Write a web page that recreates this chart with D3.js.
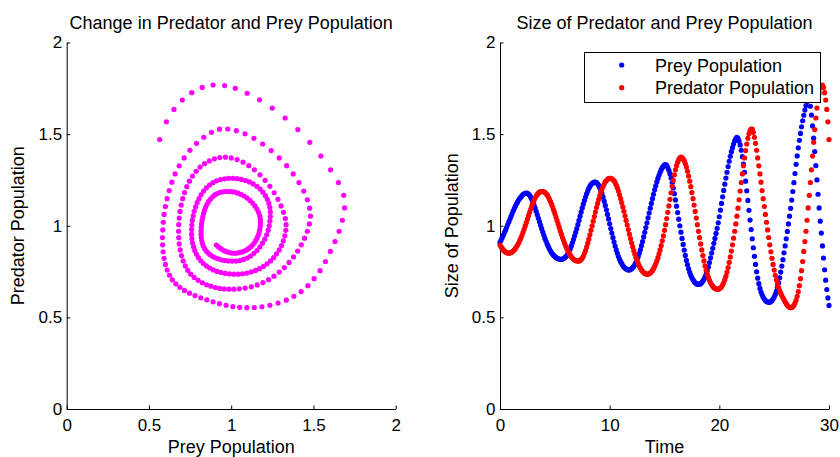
<!DOCTYPE html>
<html>
<head>
<meta charset="utf-8">
<script src="https://cdn.jsdelivr.net/npm/d3@7"></script>
<style>
  body { margin: 0; background: #fff; }
  text { font-family: "Liberation Sans", Arial, Helvetica, sans-serif; fill: #000; }
</style>
</head>
<body>
<div id="chart"></div>
<script>
// time samples and the two populations
var time = [
  0,0.1,0.2,0.3,0.4,0.5,0.6,0.7,0.8,0.9,
  1,1.1,1.2,1.3,1.4,1.5,1.6,1.7,1.8,1.9,
  2,2.1,2.2,2.3,2.4,2.5,2.6,2.7,2.8,2.9,
  3,3.1,3.2,3.3,3.4,3.5,3.6,3.7,3.8,3.9,
  4,4.1,4.2,4.3,4.4,4.5,4.6,4.7,4.8,4.9,
  5,5.1,5.2,5.3,5.4,5.5,5.6,5.7,5.8,5.9,
  6,6.1,6.2,6.3,6.4,6.5,6.6,6.7,6.8,6.9,
  7,7.1,7.2,7.3,7.4,7.5,7.6,7.7,7.8,7.9,
  8,8.1,8.2,8.3,8.4,8.5,8.6,8.7,8.8,8.9,
  9,9.1,9.2,9.3,9.4,9.5,9.6,9.7,9.8,9.9,
  10,10.1,10.2,10.3,10.4,10.5,10.6,10.7,10.8,10.9,
  11,11.1,11.2,11.3,11.4,11.5,11.6,11.7,11.8,11.9,
  12,12.1,12.2,12.3,12.4,12.5,12.6,12.7,12.8,12.9,
  13,13.1,13.2,13.3,13.4,13.5,13.6,13.7,13.8,13.9,
  14,14.1,14.2,14.3,14.4,14.5,14.6,14.7,14.8,14.9,
  15,15.1,15.2,15.3,15.4,15.5,15.6,15.7,15.8,15.9,
  16,16.1,16.2,16.3,16.4,16.5,16.6,16.7,16.8,16.9,
  17,17.1,17.2,17.3,17.4,17.5,17.6,17.7,17.8,17.9,
  18,18.1,18.2,18.3,18.4,18.5,18.6,18.7,18.8,18.9,
  19,19.1,19.2,19.3,19.4,19.5,19.6,19.7,19.8,19.9,
  20,20.1,20.2,20.3,20.4,20.5,20.6,20.7,20.8,20.9,
  21,21.1,21.2,21.3,21.4,21.5,21.6,21.7,21.8,21.9,
  22,22.1,22.2,22.3,22.4,22.5,22.6,22.7,22.8,22.9,
  23,23.1,23.2,23.3,23.4,23.5,23.6,23.7,23.8,23.9,
  24,24.1,24.2,24.3,24.4,24.5,24.6,24.7,24.8,24.9,
  25,25.1,25.2,25.3,25.4,25.5,25.6,25.7,25.8,25.9,
  26,26.1,26.2,26.3,26.4,26.5,26.6,26.7,26.8,26.9,
  27,27.1,27.2,27.3,27.4,27.5,27.6,27.7,27.8,27.9,
  28,28.1,28.2,28.3,28.4,28.5,28.6,28.7,28.8,28.9,
  29,29.1,29.2,29.3,29.4,29.5,29.6,29.7,29.8,29.9,
  30
];

var prey = [
  0.910,0.922,0.935,0.948,0.962,0.976,0.990,1.005,1.020,1.035,
  1.050,1.065,1.080,1.094,1.107,1.119,1.130,1.140,1.149,1.157,
  1.164,1.170,1.174,1.177,1.178,1.177,1.173,1.166,1.156,1.144,
  1.130,1.114,1.097,1.079,1.060,1.041,1.022,1.003,0.984,0.966,
  0.948,0.931,0.915,0.900,0.887,0.874,0.863,0.853,0.845,0.838,
  0.832,0.827,0.823,0.820,0.818,0.817,0.817,0.818,0.821,0.825,
  0.831,0.839,0.849,0.861,0.875,0.890,0.907,0.925,0.944,0.964,
  0.984,1.006,1.029,1.052,1.075,1.097,1.118,1.138,1.157,1.174,
  1.190,1.204,1.216,1.225,1.231,1.235,1.238,1.238,1.235,1.229,
  1.220,1.208,1.193,1.176,1.156,1.134,1.111,1.087,1.062,1.037,
  1.011,0.985,0.960,0.935,0.911,0.889,0.868,0.849,0.832,0.817,
  0.804,0.793,0.783,0.775,0.769,0.764,0.761,0.759,0.759,0.761,
  0.765,0.771,0.779,0.789,0.801,0.815,0.831,0.849,0.869,0.891,
  0.914,0.939,0.964,0.990,1.016,1.043,1.069,1.096,1.122,1.148,
  1.172,1.196,1.218,1.239,1.258,1.275,1.292,1.306,1.317,1.326,
  1.332,1.334,1.329,1.318,1.303,1.284,1.261,1.235,1.206,1.175,
  1.141,1.107,1.072,1.036,1.000,0.965,0.931,0.898,0.867,0.838,
  0.811,0.787,0.765,0.746,0.730,0.716,0.705,0.696,0.689,0.684,
  0.681,0.680,0.681,0.684,0.690,0.698,0.708,0.721,0.736,0.754,
  0.775,0.799,0.825,0.851,0.877,0.904,0.931,0.958,0.986,1.016,
  1.049,1.085,1.122,1.158,1.193,1.227,1.260,1.292,1.323,1.352,
  1.379,1.404,1.426,1.446,1.463,1.475,1.482,1.477,1.463,1.441,
  1.412,1.377,1.337,1.292,1.243,1.191,1.138,1.084,1.031,0.979,
  0.929,0.880,0.833,0.789,0.749,0.714,0.684,0.659,0.639,0.623,
  0.610,0.600,0.592,0.587,0.584,0.582,0.583,0.586,0.592,0.600,
  0.611,0.625,0.642,0.663,0.688,0.716,0.747,0.780,0.815,0.852,
  0.890,0.929,0.969,1.010,1.052,1.095,1.140,1.187,1.235,1.285,
  1.335,1.381,1.425,1.466,1.504,1.540,1.573,1.603,1.631,1.656,
  1.676,1.689,1.684,1.652,1.604,1.545,1.478,1.405,1.328,1.250,
  1.172,1.097,1.025,0.960,0.890,0.824,0.760,0.703,0.652,0.606,
  0.565
];

var predator = [
  0.895,0.885,0.876,0.868,0.862,0.857,0.853,0.851,0.850,0.851,
  0.853,0.857,0.862,0.868,0.876,0.885,0.895,0.906,0.919,0.933,
  0.948,0.964,0.981,0.999,1.017,1.036,1.055,1.073,1.091,1.108,
  1.124,1.138,1.151,1.162,1.171,1.178,1.183,1.186,1.187,1.187,
  1.185,1.182,1.176,1.168,1.158,1.146,1.133,1.118,1.102,1.085,
  1.067,1.048,1.029,1.010,0.991,0.972,0.954,0.936,0.919,0.903,
  0.888,0.874,0.861,0.850,0.840,0.831,0.824,0.818,0.813,0.810,
  0.808,0.807,0.807,0.810,0.816,0.824,0.835,0.849,0.865,0.884,
  0.905,0.927,0.951,0.975,1.000,1.025,1.050,1.075,1.099,1.122,
  1.144,1.164,1.183,1.200,1.215,1.228,1.239,1.247,1.253,1.257,
  1.259,1.259,1.256,1.252,1.245,1.235,1.222,1.207,1.189,1.169,
  1.148,1.126,1.103,1.079,1.054,1.029,1.004,0.979,0.954,0.930,
  0.907,0.885,0.864,0.844,0.826,0.809,0.794,0.781,0.769,0.759,
  0.751,0.745,0.740,0.737,0.736,0.736,0.738,0.742,0.748,0.756,
  0.766,0.778,0.792,0.808,0.826,0.846,0.868,0.892,0.918,0.945,
  0.975,1.006,1.039,1.073,1.108,1.144,1.180,1.215,1.248,1.278,
  1.305,1.328,1.347,1.361,1.370,1.374,1.372,1.365,1.354,1.339,
  1.320,1.297,1.271,1.243,1.213,1.181,1.148,1.113,1.078,1.042,
  1.006,0.970,0.935,0.901,0.868,0.837,0.808,0.781,0.757,0.736,
  0.718,0.702,0.689,0.678,0.670,0.663,0.658,0.655,0.654,0.654,
  0.656,0.660,0.667,0.677,0.690,0.706,0.725,0.747,0.772,0.800,
  0.830,0.862,0.896,0.932,0.970,1.010,1.052,1.096,1.142,1.189,
  1.236,1.283,1.328,1.370,1.410,1.446,1.477,1.502,1.519,1.528,
  1.527,1.510,1.483,1.450,1.412,1.370,1.327,1.283,1.238,1.192,
  1.148,1.105,1.062,1.019,0.977,0.936,0.896,0.858,0.822,0.789,
  0.758,0.730,0.705,0.683,0.664,0.647,0.632,0.619,0.607,0.596,
  0.585,0.575,0.566,0.559,0.555,0.553,0.554,0.558,0.566,0.578,
  0.594,0.615,0.641,0.673,0.711,0.755,0.805,0.860,0.914,0.970,
  1.030,1.097,1.166,1.236,1.305,1.380,1.455,1.525,1.588,1.642,
  1.687,1.723,1.750,1.765,1.768,1.755,1.726,1.686,1.635,1.567,
  1.470
];

var popTicks = [0, 0.5, 1, 1.5, 2];
var timeTicks = [0, 10, 20, 30];
var legendNames = ["Prey Population", "Predator Population"];
var legendColors = ["#0000ff", "#ff0000"];

var width = 840, height = 457;
var plotTop = 42.5, plotBottom = 409;
var dotR = 2.6;

var svg = d3.select("#chart").append("svg")
    .attr("width", width)
    .attr("height", height);

// one MATLAB-like panel: left + bottom axis, inward ticks
function makePanel(x0, x1, xDomain, xTicks, title, xLabel, yLabel)
{
  var p = {};
  p.x = d3.scaleLinear().domain(xDomain).range([x0, x1]);
  p.y = d3.scaleLinear().domain([0, 2]).range([plotBottom, plotTop]);
  p.g = svg.append("g");

  var xAxis = p.g.append("g")
      .attr("transform", "translate(0," + plotBottom + ")")
      .call(d3.axisBottom(p.x).tickValues(xTicks).tickFormat(d3.format("")).tickSizeInner(-3.5).tickSizeOuter(0).tickPadding(10));
  var yAxis = p.g.append("g")
      .attr("transform", "translate(" + x0 + ",0)")
      .call(d3.axisLeft(p.y).tickValues(popTicks).tickFormat(d3.format("")).tickSizeInner(-3.5).tickSizeOuter(0).tickPadding(4.5));

  [xAxis, yAxis].forEach(function(a) {
    a.attr("font-size", 17).attr("font-family", null);
    a.selectAll("path, line").attr("stroke", "#000");
    a.selectAll("text").attr("fill", "#000");
  });

  var cx = (x0 + x1) / 2;
  p.g.append("text").attr("x", cx).attr("y", 29)
      .attr("text-anchor", "middle").attr("font-size", 18).text(title);
  p.g.append("text").attr("x", cx).attr("y", 453)
      .attr("text-anchor", "middle").attr("font-size", 18).text(xLabel);
  p.g.append("text")
      .attr("transform", "translate(" + (x0 - 42.4) + "," + ((plotTop + plotBottom) / 2) + ") rotate(-90)")
      .attr("text-anchor", "middle").attr("font-size", 18).text(yLabel);
  return p;
}

var idx = d3.range(time.length);

// left: phase plane
var phase = makePanel(66.7, 395.7, [0, 2], popTicks,
    "Change in Predator and Prey Population", "Prey Population", "Predator Population");
phase.g.append("g").selectAll("circle")
    .data(idx).enter().append("circle")
    .attr("cx", function(i) { return phase.x(prey[i]); })
    .attr("cy", function(i) { return phase.y(predator[i]); })
    .attr("r", dotR)
    .attr("fill", "#ff00ff");

// right: populations over time
var ts = makePanel(500, 829, [0, 30], timeTicks,
    "Size of Predator and Prey Population", "Time", "Size of Population");
[prey, predator].forEach(function(series, k) {
  ts.g.append("g").selectAll("circle")
      .data(idx).enter().append("circle")
      .attr("cx", function(i) { return ts.x(time[i]); })
      .attr("cy", function(i) { return ts.y(series[i]); })
      .attr("r", dotR)
      .attr("fill", legendColors[k]);
});

// legend
var legend = svg.append("g").attr("transform", "translate(584,52)");
legend.append("rect").attr("x", 0.5).attr("y", 0.5)
    .attr("width", 236).attr("height", 50)
    .attr("fill", "#fff").attr("stroke", "#000");
legendNames.forEach(function(name, i) {
  var row = legend.append("g").attr("transform", "translate(0," + (13 + i * 22.7) + ")");
  row.append("circle").attr("cx", 37.7).attr("cy", 0).attr("r", dotR).attr("fill", legendColors[i]);
  row.append("text").attr("x", 71).attr("y", 6.7).attr("font-size", 18).text(name);
});
</script>
</body>
</html>
